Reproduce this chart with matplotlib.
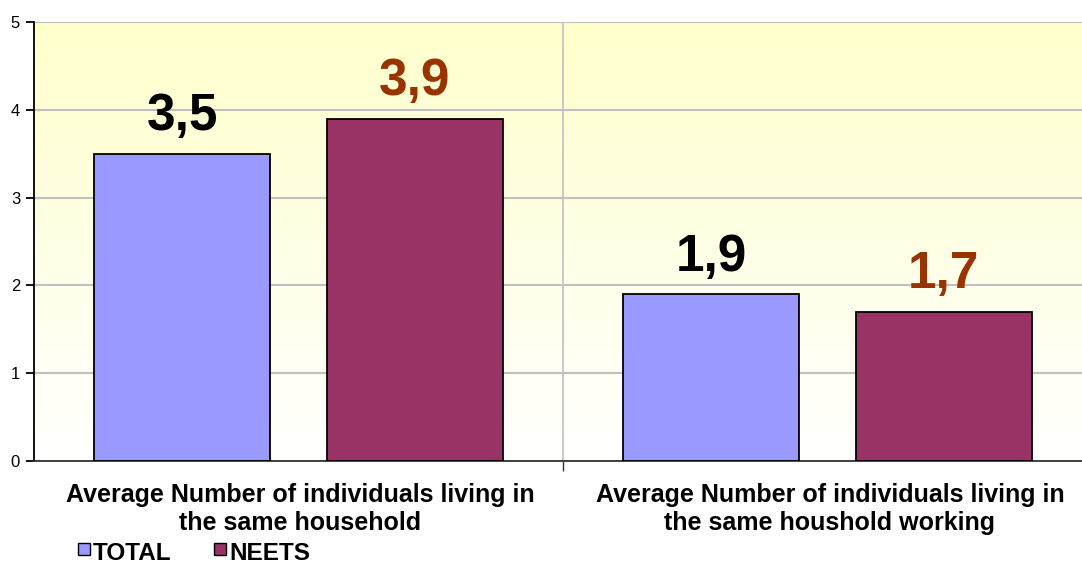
import numpy as np
import matplotlib.pyplot as plt
from matplotlib.patches import Rectangle

categories = ['Average Number of individuals living in\nthe same household',
              'Average Number of individuals living in\nthe same houshold working']
series_names = ['TOTAL', 'NEETS']
total = [3.5, 1.9]
neets = [3.9, 1.7]
total_labels = ['3,5', '1,9']
neets_labels = ['3,9', '1,7']

c_total = '#9999FF'
c_neets = '#993366'

plt.rcParams['font.family'] = ['Liberation Sans', 'DejaVu Sans']

fig = plt.figure(figsize=(10.82, 5.65), dpi=100)
W, H = 1082, 565
ax = fig.add_axes([34 / W, 1 - 461 / H, (1092 - 34) / W, (461 - 22) / H])

# yellow -> white gradient background
grad = np.linspace(0, 1, 256).reshape(-1, 1)
cmap = plt.matplotlib.colors.LinearSegmentedColormap.from_list('bg', ['#FFFFFF', '#FFFFCC'])
ax.imshow(grad, extent=[0, 2, 0, 5], origin='lower', aspect='auto', cmap=cmap, zorder=0)

x = np.arange(len(categories)) + 0.5
w = 0.333
off = 0.22
ax.bar(x - off, total, w, color=c_total, edgecolor='black', linewidth=1.3, zorder=3)
ax.bar(x + off, neets, w, color=c_neets, edgecolor='black', linewidth=1.3, zorder=3)

for xi, v, s in zip(x - off, total, total_labels):
    ax.text(xi, v + 0.14, s, ha='center', va='bottom', fontsize=37,
            fontweight='bold', color='black')
for xi, v, s in zip(x + off, neets, neets_labels):
    ax.text(xi, v + 0.14, s, ha='center', va='bottom', fontsize=37,
            fontweight='bold', color='#993300')

ax.set_xlim(0, 2)
ax.set_ylim(0, 5)
ax.set_yticks(range(6))
ax.yaxis.grid(True, color='#C0C0C0', linewidth=1.5, zorder=1)
ax.axvline(1, color='#C0C0C0', linewidth=1.2, zorder=1)
ax.set_axisbelow(True)
for sp in ['top', 'right']:
    ax.spines[sp].set_visible(False)
ax.spines['left'].set_linewidth(1.3)
ax.spines['bottom'].set_linewidth(1.3)
ax.spines['bottom'].set_color('#333333')
ax.tick_params(axis='y', direction='out', length=6, width=1.3, labelsize=12, pad=4)
ax.set_xticks([1])
ax.set_xticklabels([''])
ax.tick_params(axis='x', direction='out', length=7, width=1, color='#333333')

# category labels below the axis
for cx, lab in zip([300, 830], categories):
    fig.text(cx / W, 1 - 483 / H, lab, ha='center', va='top', fontsize=18,
             fontweight='bold', linespacing=1.2)

# legend
for px, name, col in [(78, series_names[0], c_total), (214, series_names[1], c_neets)]:
    fig.patches.append(Rectangle((px / W, 1 - 555 / H), 12 / W, 12 / H, facecolor=col,
                                 edgecolor='black', linewidth=1, transform=fig.transFigure))
    fig.text((px + 15) / W, 1 - 553 / H, name, ha='left', va='center', fontsize=17.5,
             fontweight='bold')

fig.savefig('out.png', dpi=100)
